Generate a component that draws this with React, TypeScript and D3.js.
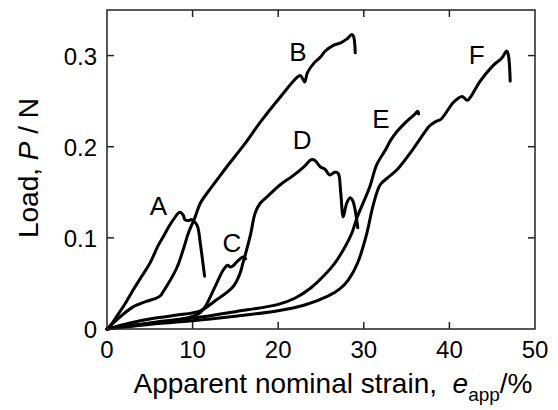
import React, { useEffect, useRef } from 'react';
import * as d3 from 'd3';

// strain (%) / load (N) pairs
const strainA = [0, 0.5, 1, 2, 3, 4, 5, 6, 6.5, 7.2, 7.9, 8.5, 8.9, 9.1, 9.5, 9.9, 10.3, 10.6, 10.9, 11.4];
const loadA = [0, 0.005, 0.012, 0.026, 0.042, 0.057, 0.072, 0.092, 0.1, 0.112, 0.122, 0.128, 0.125, 0.12, 0.119, 0.12, 0.117, 0.112, 0.094, 0.058];

const strainB = [0, 1, 2, 3, 4.5, 5.8, 6.3, 6.5, 7.3, 8.2, 8.9, 9.5, 10.3, 10.9, 12, 12.8, 14, 16, 18, 20.2, 22.2, 22.6, 23.1, 23.4, 24.2, 24.9, 25.5, 26.4, 27.3, 28, 28.6, 28.8, 29];
const loadB = [0, 0.009, 0.017, 0.024, 0.03, 0.034, 0.037, 0.04, 0.052, 0.068, 0.087, 0.105, 0.123, 0.138, 0.153, 0.163, 0.178, 0.202, 0.228, 0.254, 0.276, 0.278, 0.271, 0.281, 0.292, 0.298, 0.305, 0.311, 0.314, 0.318, 0.323, 0.321, 0.303];

const strainC = [0, 2, 5, 8, 9.7, 10.9, 11.5, 12.6, 13.6, 14.1, 14.4, 14.7, 15.2, 15.9, 16.2];
const loadC = [0, 0.003, 0.006, 0.01, 0.013, 0.018, 0.025, 0.046, 0.065, 0.07, 0.068, 0.069, 0.074, 0.079, 0.077];

const strainD = [0, 2, 5, 8, 10.9, 12.5, 14.7, 15.5, 15.9, 16.4, 16.8, 17.3, 17.9, 18.7, 20.2, 21.7, 23, 23.9, 24.3, 24.9, 25.5, 26, 26.6, 27, 27.3, 27.6, 28, 28.4, 28.7, 29.3];
const loadD = [0, 0.005, 0.011, 0.015, 0.02, 0.03, 0.046, 0.06, 0.073, 0.09, 0.105, 0.127, 0.138, 0.145, 0.158, 0.168, 0.178, 0.186, 0.185, 0.178, 0.175, 0.169, 0.172, 0.171, 0.15, 0.123, 0.138, 0.144, 0.141, 0.111];

const strainE = [0, 3, 6, 10, 15, 20, 22, 23.8, 25.5, 26.6, 27.8, 28.6, 29.2, 30, 30.7, 31.5, 32.5, 33.2, 33.9, 34.6, 35.4, 36, 36.3, 36.4];
const loadE = [0, 0.004, 0.008, 0.012, 0.019, 0.027, 0.034, 0.045, 0.06, 0.072, 0.09, 0.105, 0.122, 0.14, 0.156, 0.18, 0.196, 0.208, 0.217, 0.224, 0.231, 0.236, 0.239, 0.236];

const strainF = [0, 3, 6, 10, 15, 20, 23, 25.8, 27.2, 28.2, 29.3, 30.3, 31.1, 31.9, 32.8, 33.9, 35.8, 37.2, 37.7, 38.5, 39, 40.4, 41, 41.5, 42.1, 42.5, 43.6, 45.1, 46.1, 46.7, 46.9, 47.1];
const loadF = [0, 0.003, 0.006, 0.009, 0.014, 0.02, 0.026, 0.036, 0.044, 0.054, 0.073, 0.103, 0.136, 0.158, 0.166, 0.175, 0.198, 0.217, 0.223, 0.228, 0.23, 0.248, 0.253, 0.255, 0.251, 0.255, 0.272, 0.289, 0.297, 0.305, 0.3, 0.272];

const curveNames = ['A', 'B', 'C', 'D', 'E', 'F'];
const curveStrains = [strainA, strainB, strainC, strainD, strainE, strainF];
const curveLoads = [loadA, loadB, loadC, loadD, loadE, loadF];
// where each letter sits (strain, load at baseline)
const labelStrain = [6, 22.3, 14.6, 22.8, 32.0, 43.2];
const labelLoad = [0.125, 0.294, 0.085, 0.197, 0.221, 0.291];

const xTicks = [0, 10, 20, 30, 40, 50];
const yTicks = [0, 0.1, 0.2, 0.3];

const App = () => {
  const ref = useRef<SVGSVGElement>(null);

  useEffect(() => {
    const svg = d3.select(ref.current);
    svg.selectAll('*').remove();

    const left = 107, right = 535, top = 10, bottom = 329;
    const x = d3.scaleLinear().domain([0, 50]).range([left, right]);
    const y = d3.scaleLinear().domain([0, 0.35]).range([bottom, top]);
    const font = 'Arial, "Liberation Sans", sans-serif';
    const tickLen = 7;

    // curves
    const line = d3
      .line<[number, number]>()
      .x((d) => x(d[0]))
      .y((d) => y(d[1]))
      .curve(d3.curveCatmullRom.alpha(0.5));

    curveNames.forEach((name, i) => {
      const pts = curveStrains[i].map((s, j) => [s, curveLoads[i][j]] as [number, number]);
      svg
        .append('path')
        .attr('d', line(pts))
        .attr('fill', 'none')
        .attr('stroke', '#000')
        .attr('stroke-width', 3)
        .attr('stroke-linejoin', 'round')
        .attr('stroke-linecap', 'round');
      svg
        .append('text')
        .attr('x', x(labelStrain[i]))
        .attr('y', y(labelLoad[i]))
        .attr('text-anchor', 'middle')
        .attr('font-family', font)
        .attr('font-size', 26)
        .text(name);
    });

    // frame
    svg
      .append('rect')
      .attr('x', left)
      .attr('y', top)
      .attr('width', right - left)
      .attr('height', bottom - top)
      .attr('fill', 'none')
      .attr('stroke', '#222')
      .attr('stroke-width', 1.5);

    const inner = (v: number) => v > 0 && v < 50;
    xTicks.filter(inner).forEach((t) => {
      svg.append('line').attr('x1', x(t)).attr('x2', x(t)).attr('y1', bottom).attr('y2', bottom - tickLen)
        .attr('stroke', '#222').attr('stroke-width', 1.5);
      svg.append('line').attr('x1', x(t)).attr('x2', x(t)).attr('y1', top).attr('y2', top + tickLen)
        .attr('stroke', '#222').attr('stroke-width', 1.5);
    });
    yTicks.filter((t) => t > 0).forEach((t) => {
      svg.append('line').attr('x1', left).attr('x2', left + tickLen).attr('y1', y(t)).attr('y2', y(t))
        .attr('stroke', '#222').attr('stroke-width', 1.5);
      svg.append('line').attr('x1', right).attr('x2', right - tickLen).attr('y1', y(t)).attr('y2', y(t))
        .attr('stroke', '#222').attr('stroke-width', 1.5);
    });

    xTicks.forEach((t) => {
      svg.append('text')
        .attr('x', x(t))
        .attr('y', bottom + 29)
        .attr('text-anchor', 'middle')
        .attr('font-family', font)
        .attr('font-size', 24)
        .text(d3.format('d')(t));
    });
    yTicks.forEach((t) => {
      svg.append('text')
        .attr('x', left - 10)
        .attr('y', y(t) + 9)
        .attr('text-anchor', 'end')
        .attr('font-family', font)
        .attr('font-size', 24)
        .text(t === 0 ? '0' : d3.format('.1f')(t));
    });

    // axis titles
    const xt = svg.append('text')
      .attr('x', 333)
      .attr('y', 393)
      .attr('text-anchor', 'middle')
      .attr('font-family', font)
      .attr('font-size', 28);
    xt.append('tspan').text('Apparent nominal strain,\u00a0\u00a0');
    xt.append('tspan').attr('font-style', 'italic').text('e');
    xt.append('tspan').attr('font-size', 19).attr('dy', 8).text('app');
    xt.append('tspan').attr('dy', -8).text('/%');

    const yt = svg.append('text')
      .attr('transform', 'translate(38,168) rotate(-90)')
      .attr('text-anchor', 'middle')
      .attr('font-family', font)
      .attr('font-size', 28);
    yt.append('tspan').text('Load, ');
    yt.append('tspan').attr('font-style', 'italic').text('P');
    yt.append('tspan').text(' / N');
  }, []);

  return (
    <svg
      ref={ref}
      width={558}
      height={410}
      style={{ position: 'absolute', left: 0, top: 0, background: '#fff' }}
    />
  );
};

export default App;
